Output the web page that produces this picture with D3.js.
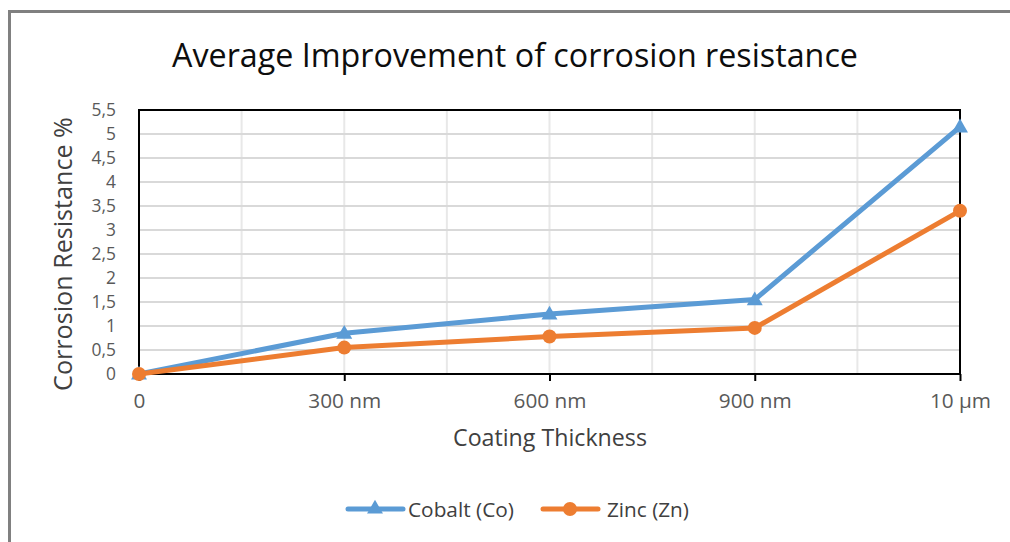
<!DOCTYPE html>
<html>
<head>
<meta charset="utf-8">
<script src="https://cdn.jsdelivr.net/npm/d3@7"></script>
<style>
  body { margin: 0; background: #fff; }
  text { font-family: "Open Sans", sans-serif; }
</style>
</head>
<body>
<div id="chart"></div>
<script>
var w = 1010;
var h = 542;

// chart values
var categories = ["0", "300 nm", "600 nm", "900 nm", "10 \u00b5m"];
var cobalt = [0, 0.85, 1.25, 1.55, 5.15];
var zinc = [0, 0.55, 0.78, 0.96, 3.4];
var yTicks = [0, 0.5, 1, 1.5, 2, 2.5, 3, 3.5, 4, 4.5, 5, 5.5];

var plotLeft = 139, plotRight = 960, plotTop = 110, plotBottom = 374;
var blue = "#5b9bd5", orange = "#ed7d31";

var svg = d3.select("#chart").append("svg")
  .attr("width", w)
  .attr("height", h);

// shrink/grow a text's font so it spans the width seen in the picture
function fit(sel, width) {
  var fs = parseFloat(sel.style("font-size"));
  var len = sel.node().getComputedTextLength();
  sel.style("font-size", (fs * width / len) + "px");
}

// outer chart border (runs off the right and bottom edges)
svg.append("rect")
  .attr("x", 9.5).attr("y", 11.5)
  .attr("width", w + 20).attr("height", h + 20)
  .attr("fill", "#fff")
  .attr("stroke", "#808080")
  .attr("stroke-width", 3);

var x = d3.scalePoint().domain(d3.range(categories.length)).range([plotLeft, plotRight]);
var y = d3.scaleLinear().domain([0, 5.5]).range([plotBottom, plotTop]);

var fmt = function(d) { return String(d).replace(".", ","); };

// vertical gridlines at every half step
var step = x.step();
var vgrid = d3.range(0, categories.length - 0.5, 0.5);
svg.append("g").selectAll("line")
  .data(vgrid)
  .enter().append("line")
  .attr("x1", function(d) { return plotLeft + d * step; })
  .attr("x2", function(d) { return plotLeft + d * step; })
  .attr("y1", plotTop).attr("y2", plotBottom)
  .attr("stroke", "#e8e8e8")
  .attr("stroke-width", 2);

// horizontal gridlines
svg.append("g").selectAll("line")
  .data(yTicks)
  .enter().append("line")
  .attr("x1", plotLeft).attr("x2", plotRight)
  .attr("y1", function(d) { return y(d); })
  .attr("y2", function(d) { return y(d); })
  .attr("stroke", "#d9d9d9")
  .attr("stroke-width", 2);

// plot frame
svg.append("rect")
  .attr("x", plotLeft).attr("y", plotTop)
  .attr("width", plotRight - plotLeft).attr("height", plotBottom - plotTop)
  .attr("fill", "none")
  .attr("stroke", "#000")
  .attr("stroke-width", 2);

// x axis
var xAxis = svg.append("g")
  .attr("transform", "translate(0," + plotBottom + ")")
  .call(d3.axisBottom(x).tickSize(7).tickPadding(12).tickFormat(function(i) { return categories[i]; }));
xAxis.select(".domain").remove();
xAxis.selectAll("line").attr("stroke", "#000").attr("stroke-width", 2);
var xLabels = xAxis.selectAll("text")
  .attr("fill", "#595959")
  .style("font-size", "17px")
  .style("font-family", "'Open Sans', sans-serif");
// size from the "900 nm" label width
var xRef = xLabels.filter(function(i) { return i == 3; });
var xFs = 17 * 73 / xRef.node().getComputedTextLength();
xLabels.style("font-size", xFs + "px");

// y axis (labels kept just small enough not to collide at 24px spacing)
var yAxis = svg.append("g")
  .attr("transform", "translate(" + plotLeft + ",0)")
  .call(d3.axisLeft(y).tickValues(yTicks).tickSize(0).tickPadding(23).tickFormat(fmt));
yAxis.select(".domain").remove();
yAxis.selectAll("text")
  .attr("fill", "#595959")
  .style("font-size", "17.4px")
  .style("font-family", "'Open Sans', sans-serif");

// titles
var title = svg.append("text")
  .attr("x", 515).attr("y", 67)
  .attr("text-anchor", "middle")
  .attr("fill", "#0d0d0d")
  .style("font-size", "28px")
  .text("Average Improvement of corrosion resistance");
fit(title, 686);

var xTitle = svg.append("text")
  .attr("x", 550).attr("y", 446)
  .attr("text-anchor", "middle")
  .attr("fill", "#404040")
  .style("font-size", "20px")
  .text("Coating Thickness");
fit(xTitle, 194);

var yTitle = svg.append("text")
  .attr("transform", "translate(72,254) rotate(-90)")
  .attr("text-anchor", "middle")
  .attr("fill", "#404040")
  .style("font-size", "22px")
  .text("Corrosion Resistance %");
fit(yTitle, 274);

// series
var line = d3.line()
  .x(function(d, i) { return x(i); })
  .y(function(d) { return y(d); });

var tri = d3.symbol().type(d3.symbolTriangle).size(110);

svg.append("path")
  .datum(cobalt)
  .attr("d", line)
  .attr("fill", "none")
  .attr("stroke", blue)
  .attr("stroke-width", 5)
  .attr("stroke-linejoin", "round");

svg.append("path")
  .datum(zinc)
  .attr("d", line)
  .attr("fill", "none")
  .attr("stroke", orange)
  .attr("stroke-width", 5)
  .attr("stroke-linejoin", "round");

svg.append("g").selectAll("path")
  .data(cobalt)
  .enter().append("path")
  .attr("d", tri)
  .attr("transform", function(d, i) { return "translate(" + x(i) + "," + (y(d) + 1) + ")"; })
  .attr("fill", blue);

svg.append("g").selectAll("circle")
  .data(zinc)
  .enter().append("circle")
  .attr("cx", function(d, i) { return x(i); })
  .attr("cy", function(d) { return y(d); })
  .attr("r", 7)
  .attr("fill", orange);

// legend
var legend = [
  {name: "Cobalt (Co)", color: blue, x: 348, width: 106, marker: "tri"},
  {name: "Zinc (Zn)", color: orange, x: 543, width: 82, marker: "circle"}
];
var lg = svg.append("g").selectAll("g")
  .data(legend)
  .enter().append("g")
  .attr("transform", function(d) { return "translate(" + d.x + ",509)"; });

lg.append("line")
  .attr("x1", 0).attr("x2", 55)
  .attr("stroke", function(d) { return d.color; })
  .attr("stroke-width", 5)
  .attr("stroke-linecap", "round");

lg.each(function(d) {
  var g = d3.select(this);
  if (d.marker == "tri") {
    g.append("path").attr("d", tri).attr("transform", "translate(27,0)").attr("fill", d.color);
  } else {
    g.append("circle").attr("cx", 27).attr("r", 7).attr("fill", d.color);
  }
  var t = g.append("text")
    .attr("x", d.marker == "tri" ? 60 : 64).attr("y", 8)
    .attr("fill", "#404040")
    .style("font-size", "19px")
    .text(d.name);
  fit(t, d.width);
});
</script>
</body>
</html>
